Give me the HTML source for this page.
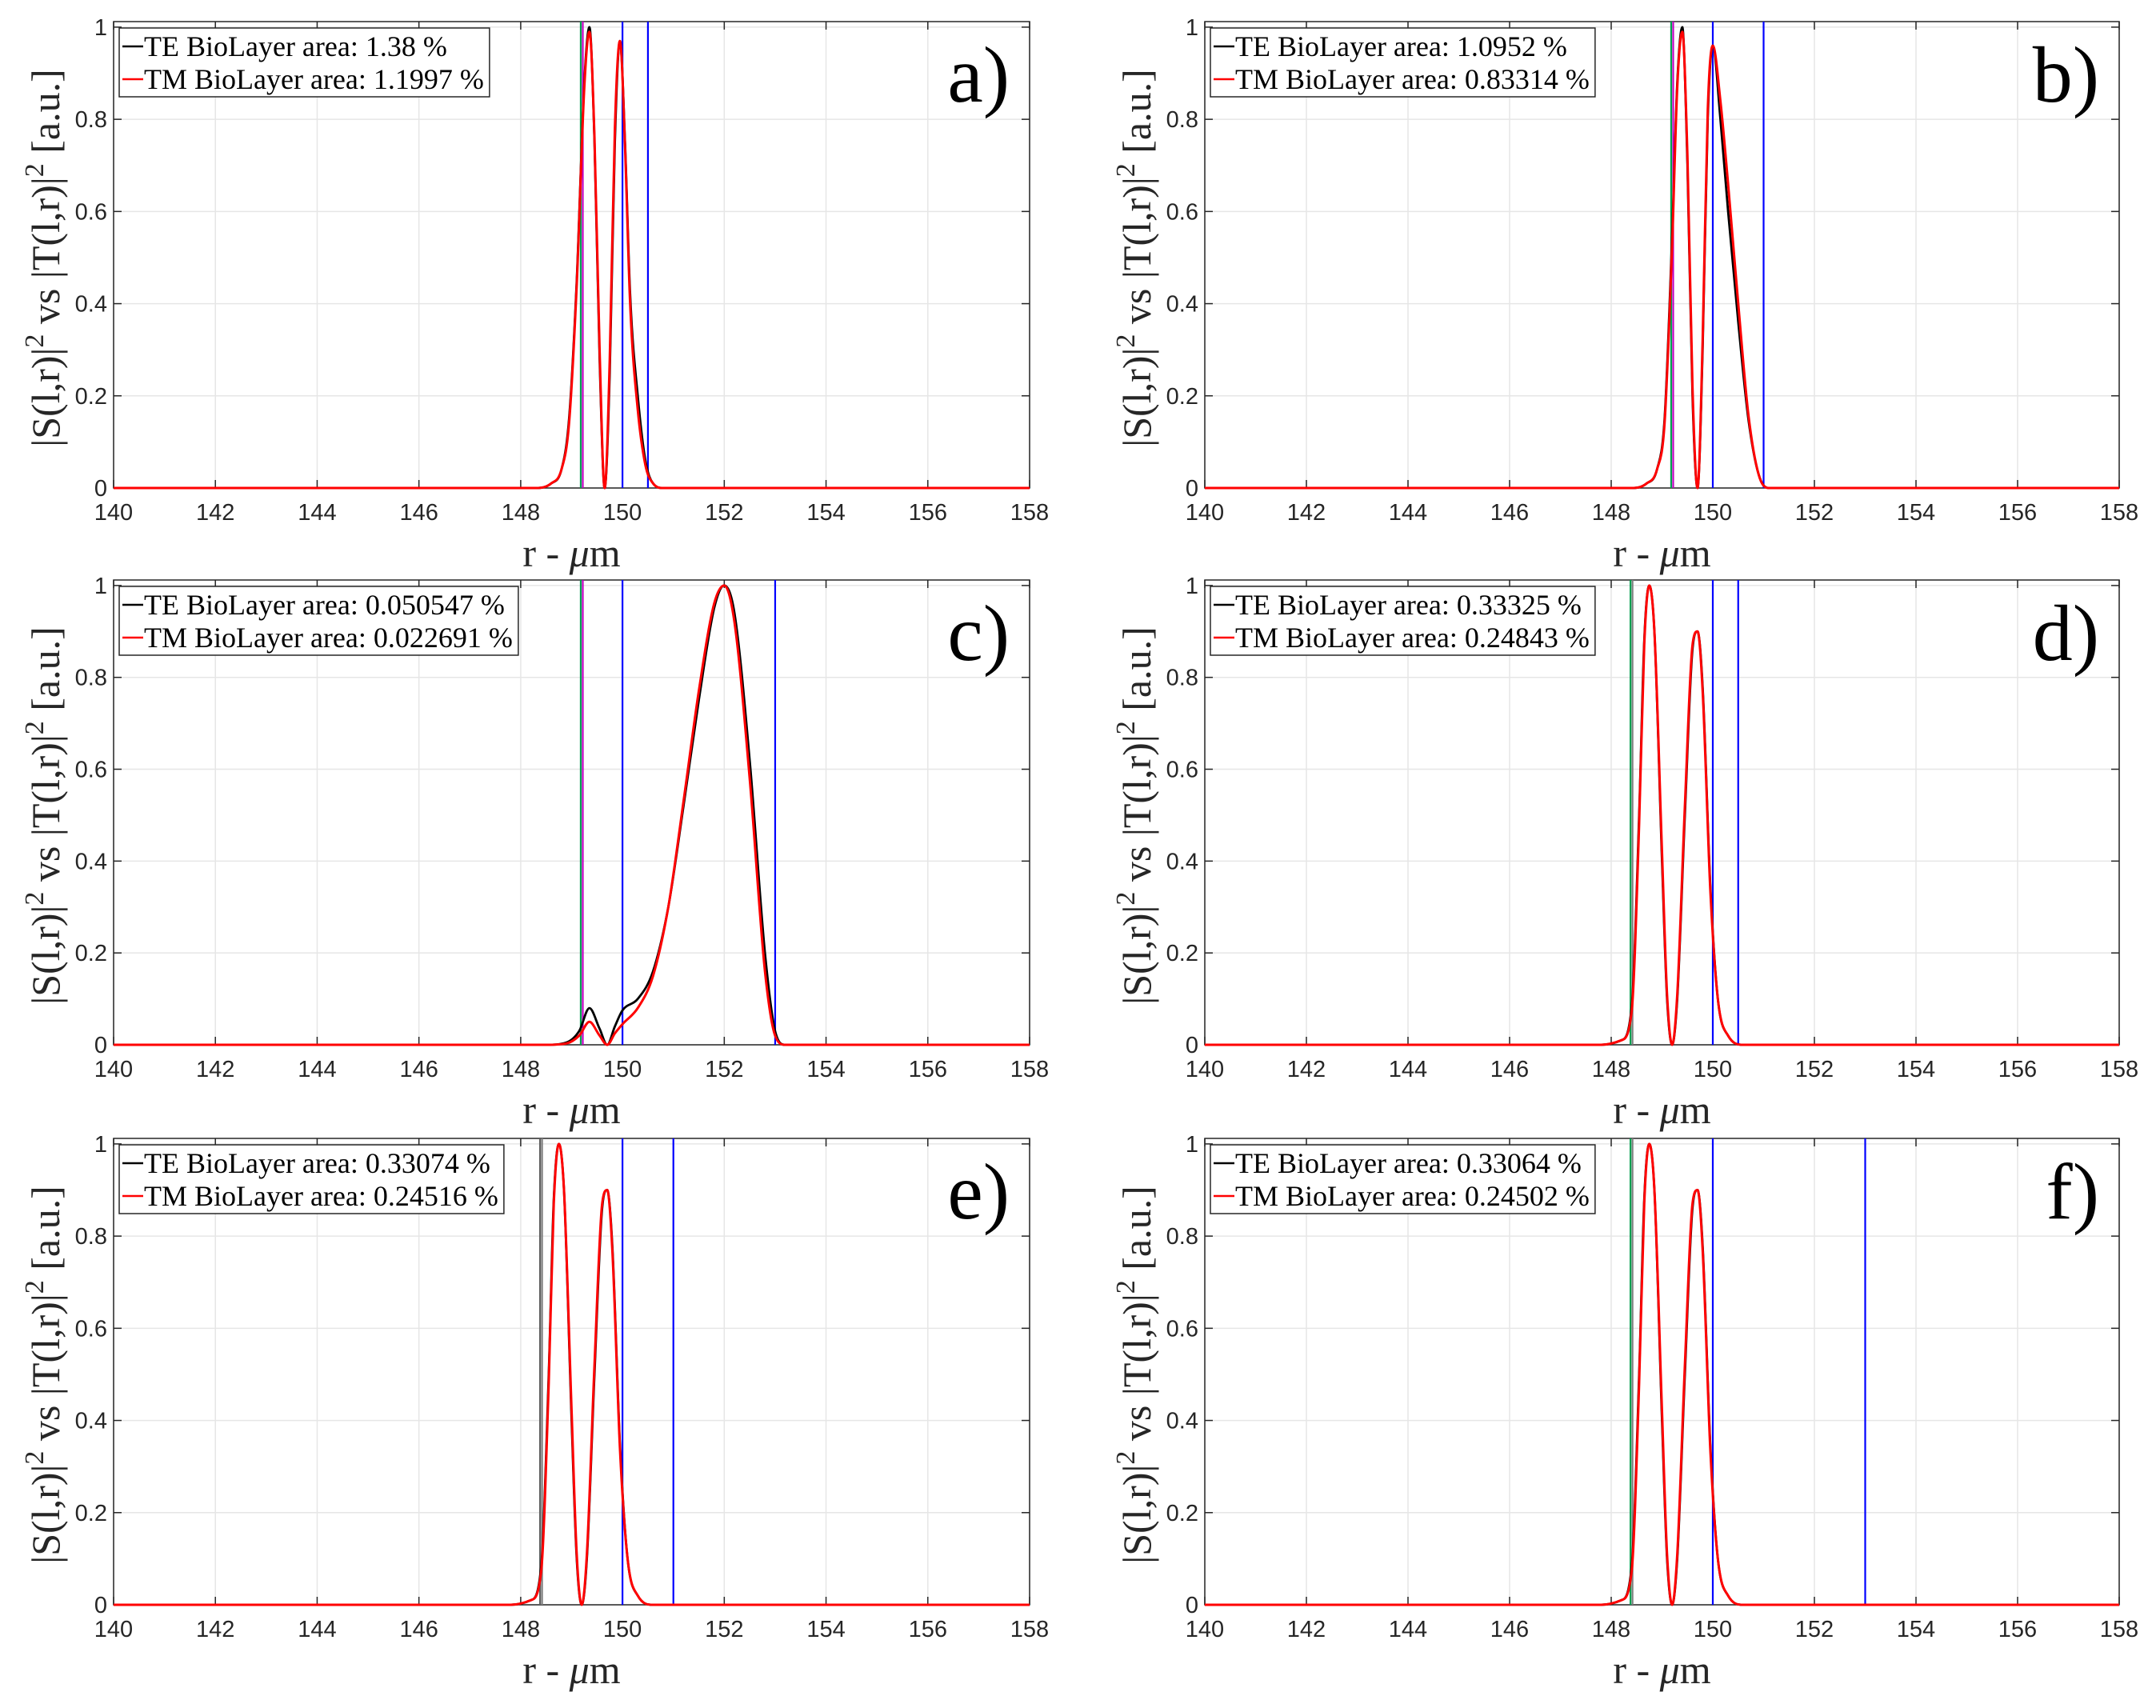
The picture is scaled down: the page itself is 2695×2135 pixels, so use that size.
<!DOCTYPE html>
<html><head><meta charset="utf-8">
<style>
html,body{margin:0;padding:0;background:#fff;}
svg{display:block;}
text{font-family:"Liberation Serif",serif;}
.tick{font-family:"Liberation Sans",sans-serif;font-size:29px;fill:#262626;}
</style></head>
<body>
<svg id="chart" width="2695" height="2135" viewBox="0 0 2695 2135" xmlns="http://www.w3.org/2000/svg"></svg>
<script>
const xTicks = [140,142,144,146,148,150,152,154,156,158];
const yTicks = [0,0.2,0.4,0.6,0.8,1];
const yTickLabels = ["0","0.2","0.4","0.6","0.8","1"];
const panelLetters = ["a)","b)","c)","d)","e)","f)"];
const teLabels = ["TE BioLayer area: 1.38 %","TE BioLayer area: 1.0952 %","TE BioLayer area: 0.050547 %","TE BioLayer area: 0.33325 %","TE BioLayer area: 0.33074 %","TE BioLayer area: 0.33064 %"];
const tmLabels = ["TM BioLayer area: 1.1997 %","TM BioLayer area: 0.83314 %","TM BioLayer area: 0.022691 %","TM BioLayer area: 0.24843 %","TM BioLayer area: 0.24516 %","TM BioLayer area: 0.24502 %"];
const vlinesA = [[149.18,"#00a050"],[149.22,"#c000c0"],[150,"#0000ff"],[150.5,"#0000ff"]];
const vlinesB = [[149.18,"#00a050"],[149.22,"#c000c0"],[150,"#0000ff"],[151,"#0000ff"]];
const vlinesC = [[149.18,"#00a050"],[149.22,"#c000c0"],[150,"#0000ff"],[153,"#0000ff"]];
const vlinesD = [[148.38,"#00a050"],[148.42,"#808080"],[150,"#0000ff"],[150.5,"#0000ff"]];
const vlinesE = [[148.38,"#606060"],[148.42,"#808080"],[150,"#0000ff"],[151,"#0000ff"]];
const vlinesF = [[148.38,"#00a050"],[148.42,"#808080"],[150,"#0000ff"],[153,"#0000ff"]];
const rA  = [140,148.3,148.6,148.8,148.95,149.1,149.25,149.35,149.45,149.55,149.65,149.75,149.85,149.95,150.05,150.15,150.3,150.45,150.6,150.8,158];
const teA = [0,0,0.01,0.04,0.15,0.45,0.88,1.0,0.75,0.28,0.0,0.25,0.75,0.97,0.75,0.42,0.2,0.06,0.01,0,0];
const tmA = [0,0,0.01,0.04,0.14,0.44,0.87,0.99,0.76,0.3,0.0,0.28,0.78,0.97,0.74,0.4,0.17,0.05,0.01,0,0];
const rB  = [140,148.4,148.7,148.9,149.05,149.2,149.3,149.4,149.5,149.6,149.7,149.8,149.9,150.0,150.15,150.3,150.5,150.7,150.9,151.1,158];
const teB = [0,0,0.01,0.04,0.15,0.55,0.88,1.0,0.7,0.2,0.0,0.3,0.8,0.96,0.8,0.6,0.36,0.15,0.03,0,0];
const tmB = [0,0,0.01,0.04,0.14,0.53,0.87,0.99,0.72,0.22,0.0,0.32,0.82,0.96,0.84,0.66,0.4,0.16,0.03,0,0];
const rC  = [140,148.5,148.9,149.15,149.35,149.55,149.7,149.85,150.0,150.3,150.6,150.9,151.2,151.5,151.8,152.0,152.2,152.5,152.8,153.0,153.2,158];
const teC = [0,0,0.005,0.03,0.08,0.035,0.0,0.04,0.075,0.1,0.16,0.3,0.52,0.75,0.95,1.0,0.94,0.62,0.2,0.03,0,0];
const tmC = [0,0,0.003,0.02,0.05,0.02,0.0,0.025,0.045,0.08,0.15,0.3,0.53,0.77,0.96,1.0,0.92,0.58,0.16,0.02,0,0];
const rD  = [140,147.8,148.2,148.4,148.55,148.65,148.75,148.85,149.0,149.1,149.2,149.3,149.45,149.6,149.7,149.8,149.95,150.1,150.3,150.6,158];
const teD = [0,0,0.01,0.08,0.5,0.88,1.0,0.9,0.4,0.1,0.0,0.1,0.5,0.86,0.9,0.78,0.35,0.1,0.02,0,0];
const tmD = [0,0,0.01,0.07,0.48,0.87,1.0,0.9,0.42,0.11,0.0,0.11,0.52,0.87,0.9,0.77,0.34,0.1,0.02,0,0];
const rE = rD, teE = teD, tmE = tmD;
const rF = rD, teF = teD, tmF = tmD;

const panels = [
 {r:rA,te:teA,tm:tmA,v:vlinesA},{r:rB,te:teB,tm:tmB,v:vlinesB},
 {r:rC,te:teC,tm:tmC,v:vlinesC},{r:rD,te:teD,tm:tmD,v:vlinesD},
 {r:rE,te:teE,tm:tmE,v:vlinesE},{r:rF,te:teF,tm:tmF,v:vlinesF}];
const colX = [[142,1287],[1506,2649]];
const rowY = [[27,610],[725,1306],[1423,2006]];

const NS = "http://www.w3.org/2000/svg";
const svg = document.getElementById('chart');
function mk(tag, attrs, parent){const e=document.createElementNS(NS,tag);for(const k in attrs)e.setAttribute(k,attrs[k]);(parent||svg).appendChild(e);return e;}

// monotone cubic (Fritsch-Carlson) in data space
function monotonePath(xs, ys, sx, sy){
  const n=xs.length, d=[], m=new Array(n);
  for(let i=0;i<n-1;i++) d.push((ys[i+1]-ys[i])/(xs[i+1]-xs[i]));
  m[0]=d[0]; m[n-1]=d[n-2];
  for(let i=1;i<n-1;i++){ m[i]=(d[i-1]*d[i]<=0)?0:(d[i-1]+d[i])/2; }
  for(let i=0;i<n-1;i++){
    if(d[i]===0){m[i]=0;m[i+1]=0;continue;}
    const a=m[i]/d[i], b=m[i+1]/d[i], s=a*a+b*b;
    if(s>9){const t=3/Math.sqrt(s);m[i]=t*a*d[i];m[i+1]=t*b*d[i];}
  }
  let path="M"+sx(xs[0]).toFixed(1)+","+sy(ys[0]).toFixed(1);
  for(let i=0;i<n-1;i++){
    const h=xs[i+1]-xs[i];
    path+="C"+sx(xs[i]+h/3).toFixed(1)+","+sy(ys[i]+m[i]*h/3).toFixed(1)+" "+sx(xs[i+1]-h/3).toFixed(1)+","+sy(ys[i+1]-m[i+1]*h/3).toFixed(1)+" "+sx(xs[i+1]).toFixed(1)+","+sy(ys[i+1]).toFixed(1);
  }
  return path;
}

panels.forEach((p,idx)=>{
  const [L,R]=colX[idx%2], [T,B]=rowY[Math.floor(idx/2)];
  const yTop = 1.012;
  const sx = r => L+(r-140)/(158-140)*(R-L);
  const sy = v => B-(v/yTop)*(B-T);
  const g = mk('g',{});
  
  
  xTicks.forEach(t=>{const l=mk('line',{x1:sx(t),x2:sx(t),y1:T,y2:B,stroke:'#e6e6e6','stroke-width':1.5},g);
    });
  yTicks.forEach(t=>{const l=mk('line',{x1:L,x2:R,y1:sy(t),y2:sy(t),stroke:'#e6e6e6','stroke-width':1.5},g);
    });
  const box=mk('rect',{x:L,y:T,width:R-L,height:B-T,fill:'none',stroke:'#262626','stroke-width':1.5},g);
  
  xTicks.forEach(t=>{mk('line',{x1:sx(t),x2:sx(t),y1:B,y2:B-10,stroke:'#262626','stroke-width':1.5},g);mk('line',{x1:sx(t),x2:sx(t),y1:T,y2:T+10,stroke:'#262626','stroke-width':1.5},g);
    const tx=mk('text',{x:sx(t),y:B+40,'text-anchor':'middle',class:'tick'},g);tx.textContent=t;
    });
  yTicks.forEach((t,i)=>{mk('line',{x1:L,x2:L+10,y1:sy(t),y2:sy(t),stroke:'#262626','stroke-width':1.5},g);mk('line',{x1:R,x2:R-10,y1:sy(t),y2:sy(t),stroke:'#262626','stroke-width':1.5},g);
    const tx=mk('text',{x:L-8,y:sy(t)+10,'text-anchor':'end',class:'tick'},g);tx.textContent=yTickLabels[i];
    });
  p.v.forEach(v=>{const l=mk('line',{x1:sx(v[0]),x2:sx(v[0]),y1:T,y2:B,stroke:v[1],'stroke-width':2.2},g);
    });
  const te=mk('path',{d:monotonePath(p.r,p.te,sx,sy),fill:'none',stroke:'#000','stroke-width':2.8},g);
  
  const tm=mk('path',{d:monotonePath(p.r,p.tm,sx,sy),fill:'none',stroke:'#ff0000','stroke-width':3},g);
  
  const lg=mk('g',{},g);
  const lx=L+7, ly=T+8;
  const bg=mk('rect',{x:lx,y:ly,width:480,height:86,fill:'#fff',stroke:'#262626','stroke-width':1.5},lg);
  mk('line',{x1:lx+4,x2:lx+30,y1:ly+23,y2:ly+23,stroke:'#000','stroke-width':2.5},lg);
  mk('line',{x1:lx+4,x2:lx+30,y1:ly+64,y2:ly+64,stroke:'#f00','stroke-width':2.5},lg);
  const t1=mk('text',{x:lx+31,y:ly+35,'font-size':36,fill:'#000'},lg);t1.textContent=teLabels[idx];
  
  const t2=mk('text',{x:lx+31,y:ly+76,'font-size':36,fill:'#000'},lg);t2.textContent=tmLabels[idx];
  
  const w=Math.max(t1.getComputedTextLength(),t2.getComputedTextLength());
  bg.setAttribute('width',w+38);
  const pl=mk('text',{x:R-25,y:T+100,'text-anchor':'end','font-size':100,fill:'#000'},g);pl.textContent=panelLetters[idx];
  
  const xl=mk('text',{x:(L+R)/2,y:B+98,'text-anchor':'middle','font-size':50,fill:'#262626'},g);
  xl.innerHTML='r - <tspan font-style="italic">μ</tspan>m';
  
  const yl=mk('text',{transform:`translate(${L-68},${(T+B)/2+4}) rotate(-90)`,'text-anchor':'middle','font-size':50,fill:'#262626'},g);
  yl.innerHTML='|S(l,r)|<tspan dy="-20" font-size="34">2</tspan><tspan dy="20"> vs |T(l,r)|</tspan><tspan dy="-20" font-size="34">2</tspan><tspan dy="20"> [a.u.]</tspan>';
  
});
</script>
</body></html>
